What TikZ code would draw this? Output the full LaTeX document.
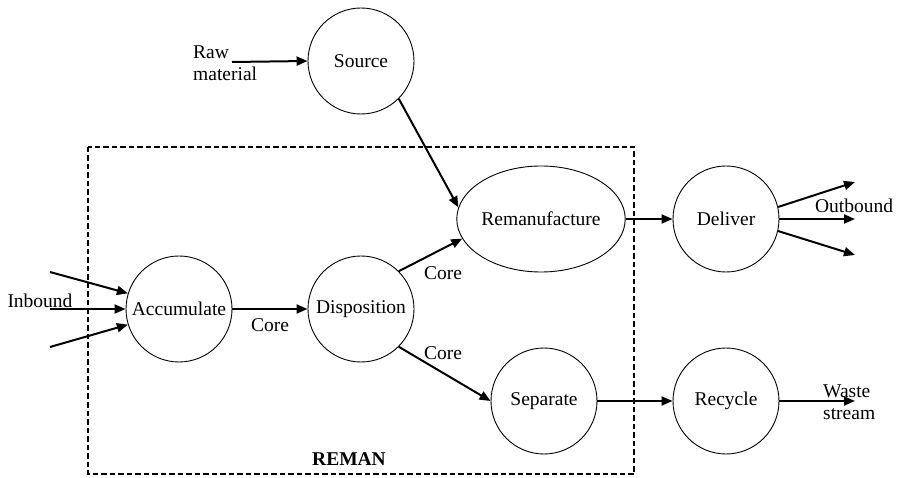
\documentclass[tikz,border=0pt]{standalone}
\usepackage{fontspec}
\setmainfont{Liberation Serif}
\usetikzlibrary{arrows.meta,shapes.geometric}
\begin{document}
\begin{tikzpicture}[x=1pt,y=-1pt,
  font=\fontsize{19.5}{22}\selectfont,
  stage/.style={circle,draw,line width=0.9pt,minimum size=106pt,inner sep=0pt},
  widestage/.style={ellipse,draw,line width=0.9pt,minimum width=140pt,minimum height=106pt,inner sep=0pt},
  flow/.style={line width=2pt,-{Triangle[length=11pt,width=9pt]}},
  lbl/.style={inner sep=0pt},
  boundary/.style={line width=1.8pt,dash pattern=on 5.5pt off 3pt}]
\useasboundingbox (0,0) rectangle (900,478);

% REMAN boundary
\draw[boundary] (88,147) rectangle (634,474);
\node[lbl,font=\fontsize{19.5}{22}\selectfont\bfseries] (reman-lbl) at (349,459) {REMAN};

% stages
\node[stage] (source) at (361,61) {Source};
\node[stage] (acc) at (179,309) {Accumulate};
\node[stage] (disp) at (361,309) {Disposition};
\node[widestage] (reman) at (541,219) {Remanufacture};
\node[stage] (sep) at (544,401) {Separate};
\node[stage] (deliver) at (726,219) {Deliver};
\node[stage] (recycle) at (726,401) {Recycle};

% free ends
\coordinate (raw) at (232,62);
\coordinate (in1) at (50,272);
\coordinate (in2) at (50,309);
\coordinate (in3) at (50,347);
\coordinate (out1) at (855,182);
\coordinate (out2) at (855,219);
\coordinate (out3) at (855,255);
\coordinate (waste) at (855,401);

% outside labels
\node[lbl,align=left,anchor=west] (rawlbl) at (193,63) {Raw\\material};
\node[lbl] (inlbl) at (40,301) {Inbound};
\node[lbl] (outlbl) at (854,206) {Outbound};
\node[lbl,align=left,anchor=west] (wastelbl) at (823,402) {Waste\\stream};

% flows
\draw[flow] (raw) -- (source.west);
\draw[flow] (in1) -- (acc.163);
\draw[flow] (in2) -- (acc.west);
\draw[flow] (in3) -- (acc.197);
\draw[flow] (acc.east) -- node[lbl,below=9pt] (core1) {Core} (disp.west);
\draw[flow] (disp.45) -- (reman.194);
\draw[flow] (disp.-45) -- (sep.west);
\draw[flow] (source.-45) -- (reman.172);
\draw[flow] (reman.east) -- (deliver.west);
\draw[flow] (sep.east) -- (recycle.west);
\draw[flow] (deliver.13) -- (out1);
\draw[flow] (deliver.east) -- (out2);
\draw[flow] (deliver.-13) -- (out3);
\draw[flow] (recycle.east) -- (waste);

\node[lbl] (core2) at (443,273) {Core};
\node[lbl] (core3) at (443,353) {Core};
\end{tikzpicture}
\end{document}
